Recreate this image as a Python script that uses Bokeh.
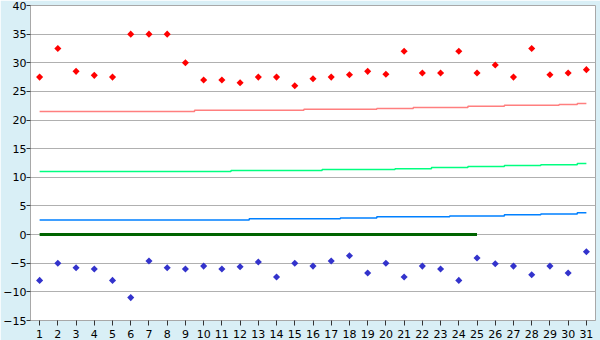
from bokeh.plotting import figure
from bokeh.models import Range1d, FixedTicker
from bokeh.embed import file_html
from bokeh.resources import INLINE

days = list(range(1, 32))

high_points = [27.5, 32.5, 28.5, 27.8, 27.5, 35, 35, 35, 30, 27, 27, 26.5, 27.5, 27.5, 26,
               27.2, 27.5, 27.9, 28.5, 28, 32, 28.2, 28.2, 32, 28.2, 29.6, 27.5, 32.5, 27.9, 28.2, 28.8]
low_points = [-8, -5, -5.8, -6, -8, -11, -4.6, -5.8, -6, -5.5, -6, -5.6, -4.8, -7.4, -5,
              -5.5, -4.6, -3.7, -6.7, -5, -7.4, -5.5, -6, -8, -4.1, -5.1, -5.5, -7, -5.5, -6.7, -3]
red_line = [21.5] * 9 + [21.7] * 6 + [21.9] * 4 + [22.0] * 2 + [22.2] * 3 + [22.4] * 2 + [22.6] * 3 + [22.7, 22.9]
green_line = [11.0] * 11 + [11.2] * 5 + [11.35] * 4 + [11.5] * 2 + [11.7] * 2 + [11.9] * 2 + [12.05] * 2 + [12.2] * 2 + [12.4]
blue_line = [2.55] * 12 + [2.75] * 5 + [2.9] * 2 + [3.1] * 4 + [3.25] * 3 + [3.45] * 2 + [3.6] * 2 + [3.8]
zero_days = list(range(1, 26))
zero_line = [0] * 25

y_ticks = [-15, -10, -5, 0, 5, 10, 15, 20, 25, 30, 35, 40]

p = figure(width=600, height=340, output_backend="svg", toolbar_location=None,
           x_range=Range1d(0.5, 31.5), y_range=Range1d(-15, 40))
p.min_border_left = 0
p.min_border_right = 5
p.min_border_top = 5
p.min_border_bottom = 0
p.border_fill_color = "#d9eff6"
p.background_fill_color = "white"
p.outline_line_color = "#a8a8a8"
p.outline_line_width = 1

p.xaxis.ticker = FixedTicker(ticks=days)
p.yaxis.ticker = FixedTicker(ticks=y_ticks)
p.xgrid.visible = False
p.ygrid.grid_line_color = "#b0b0b0"
p.ygrid.grid_line_width = 1

for ax in (p.xaxis, p.yaxis):
    ax.axis_line_color = "#a8a8a8"
    ax.major_tick_line_color = "#333333"
    ax.minor_tick_line_color = None
    ax.major_tick_in = 0
    ax.major_label_text_font = "DejaVu Sans"
    ax.major_label_text_font_size = "11px"
    ax.major_label_text_color = "black"

p.xaxis.major_tick_out = 5
p.xaxis.major_label_standoff = 4
p.yaxis.major_tick_out = 4
p.yaxis.major_label_standoff = 0

p.step(days, red_line, mode="center", line_color="#ff7f7f", line_width=1.5)
p.step(days, green_line, mode="center", line_color="#00ff80", line_width=1.5)
p.step(days, blue_line, mode="center", line_color="#0080ff", line_width=1.5)
p.line(zero_days, zero_line, line_color="#006400", line_width=3)

p.scatter(days, high_points, marker="square", angle=0.785398, size=5, fill_color="#ff0000", line_color=None)
p.scatter(days, low_points, marker="square", angle=0.785398, size=5, fill_color="#3333cc", line_color=None)

open("out.html", "w").write(file_html(p, INLINE))
